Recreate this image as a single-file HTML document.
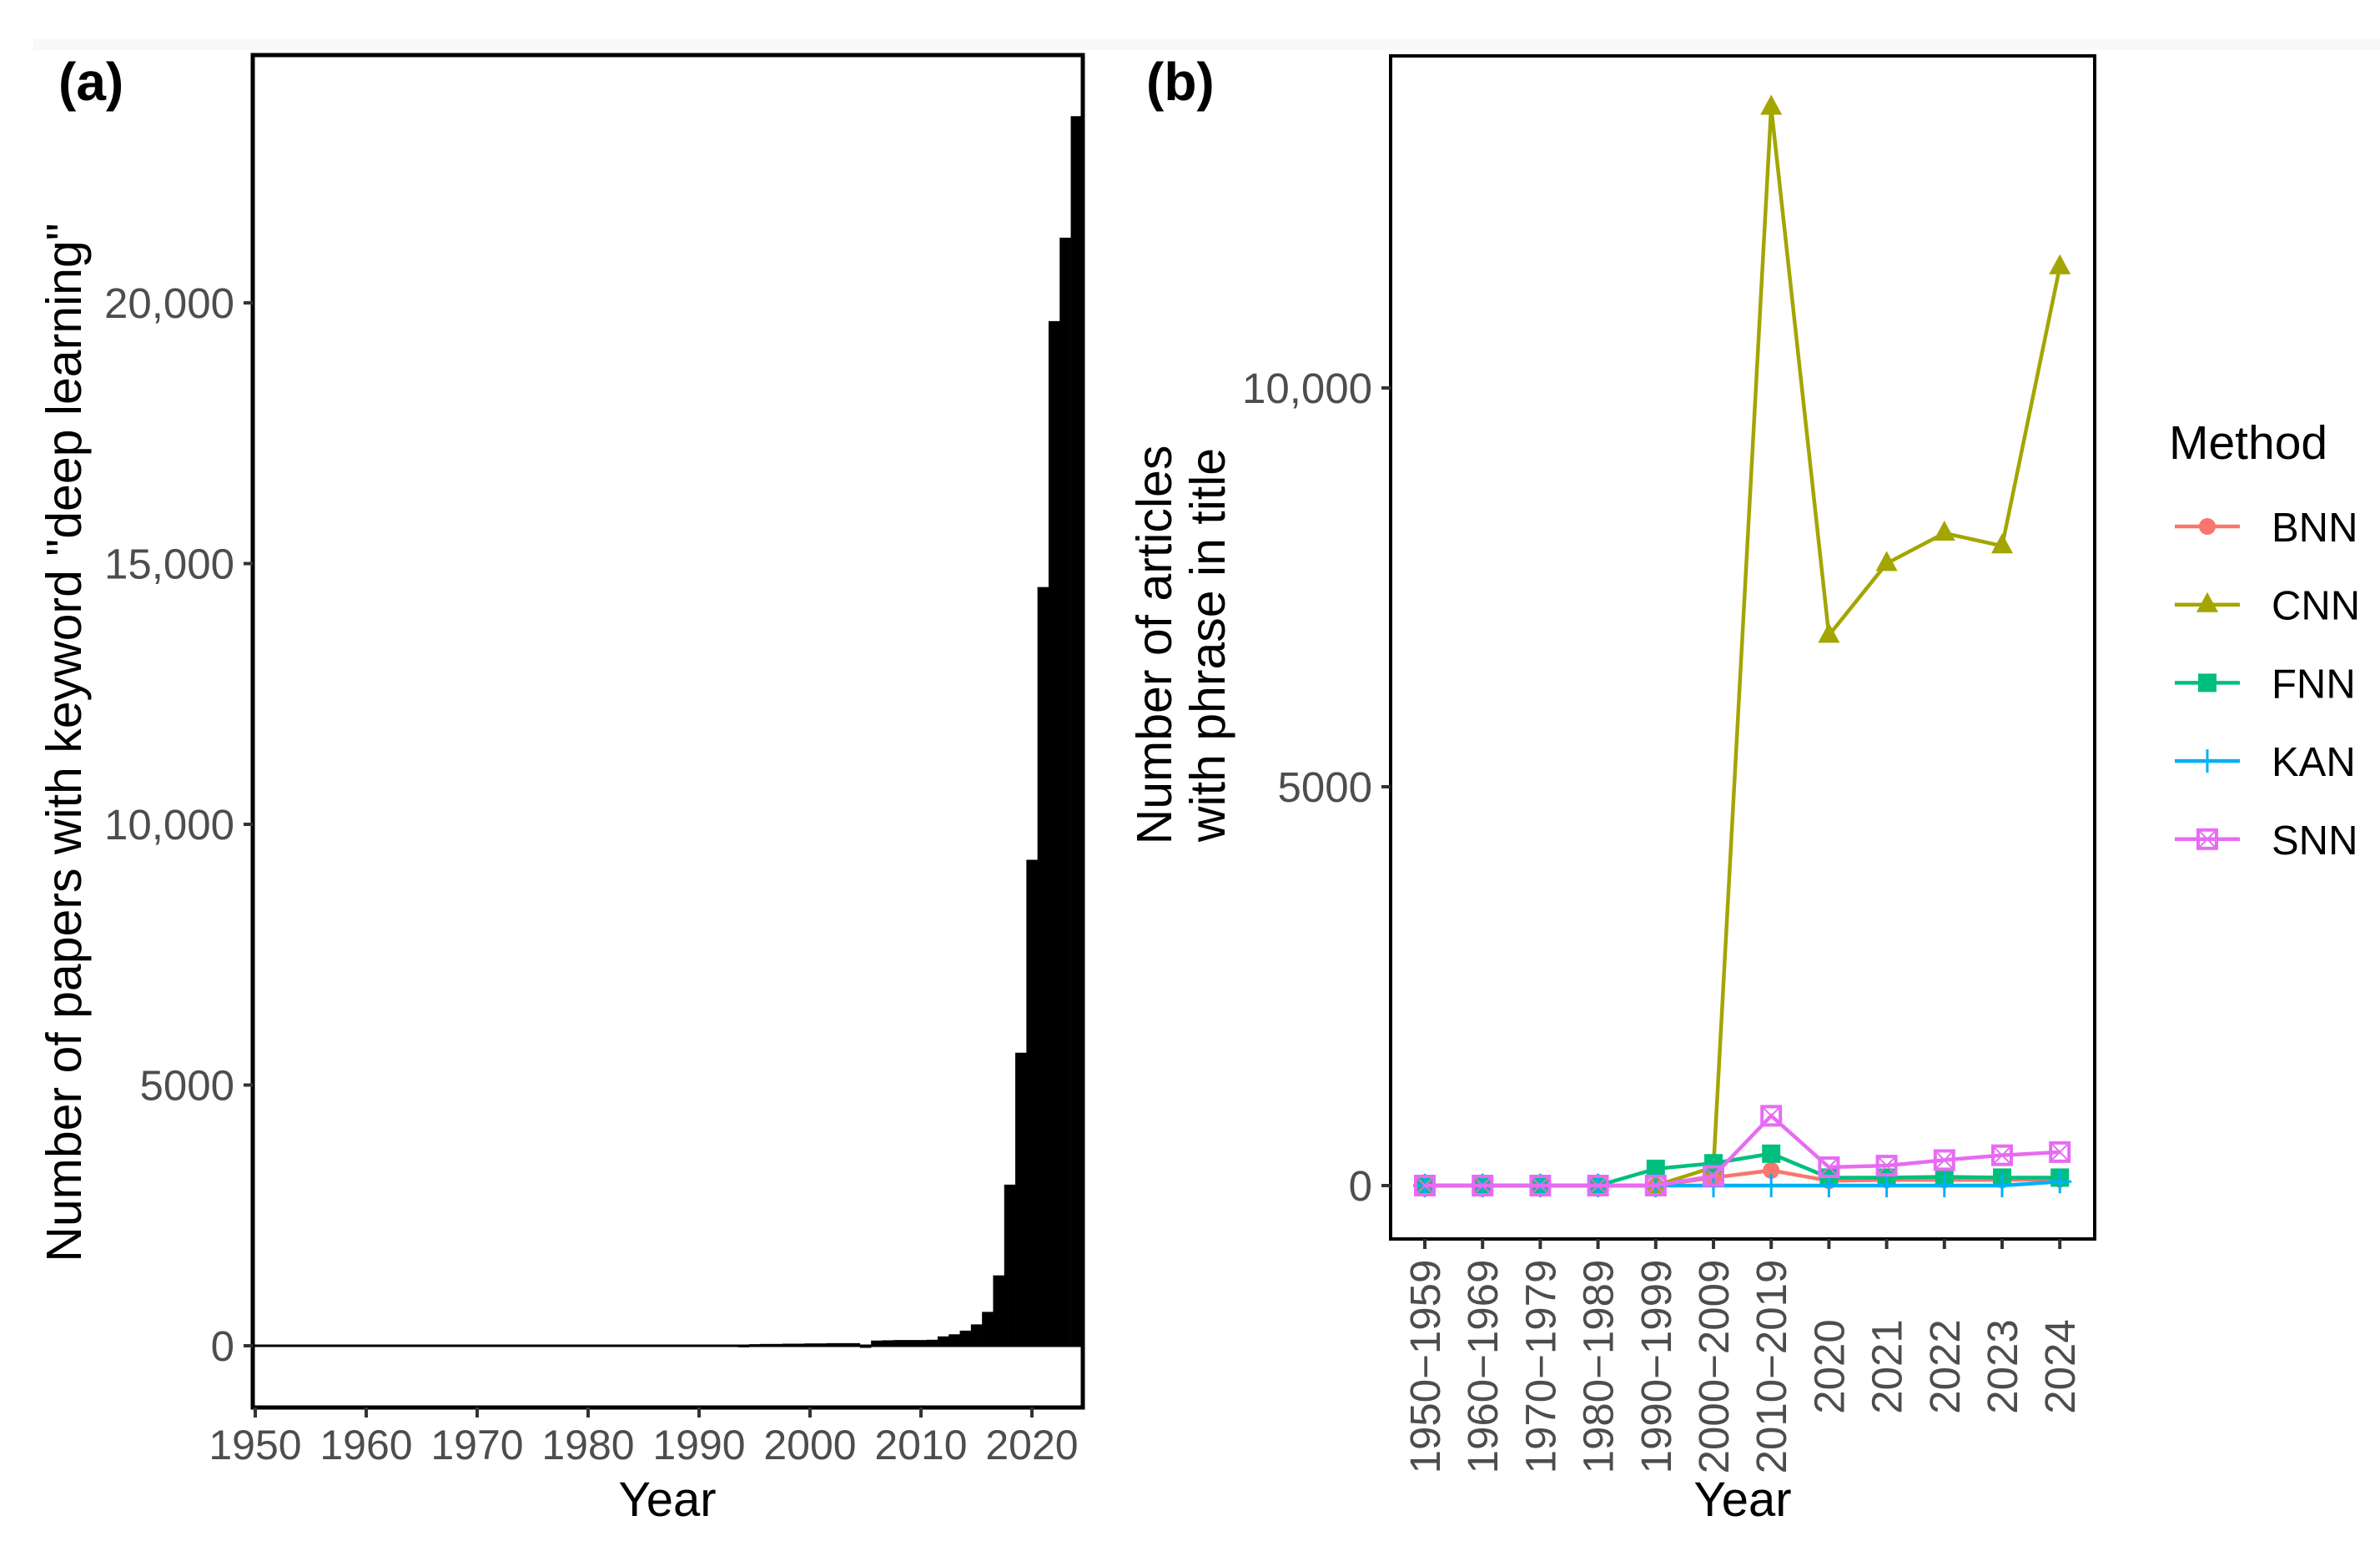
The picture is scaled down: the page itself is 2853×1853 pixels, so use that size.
<!DOCTYPE html>
<html><head><meta charset="utf-8"><style>
html,body{margin:0;padding:0;background:#fff;}
svg{display:block;}
text{font-family:"Liberation Sans",Arial,sans-serif;}
</style></head><body>
<svg id="fig" width="2853" height="1853" viewBox="0 0 2853 1853" xmlns="http://www.w3.org/2000/svg">
<rect x="40" y="47" width="2813" height="13" fill="#f8f8f8"/>
<text x="70" y="120" font-size="64" font-weight="bold">(a)</text>
<text x="1374" y="120" font-size="64" font-weight="bold">(b)</text>
<g id="pa"></g>
<g id="pb"></g>
</svg>
<script>
// ---------- Panel A data ----------
const aYears = [1950,1951,1952,1953,1954,1955,1956,1957,1958,1959,1960,1961,1962,1963,1964,1965,1966,1967,1968,1969,1970,1971,1972,1973,1974,1975,1976,1977,1978,1979,1980,1981,1982,1983,1984,1985,1986,1987,1988,1989,1990,1991,1992,1993,1994,1995,1996,1997,1998,1999,2000,2001,2002,2003,2004,2005,2006,2007,2008,2009,2010,2011,2012,2013,2014,2015,2016,2017,2018,2019,2020,2021,2022,2023,2024];
const aValues = [0,0,0,0,0,0,0,0,0,0,0,0,0,0,0,0,0,0,0,0,0,0,0,0,0,0,0,0,0,0,0,0,0,0,0,0,0,0,0,0,0,0,0,20,-30,30,35,35,40,40,45,45,50,50,50,-40,100,105,110,110,110,115,180,220,290,410,650,1350,3090,5620,9320,14550,19650,21250,23580];
const aYTicks = [0,5000,10000,15000,20000];
const aYTickLabels = ["0","5000","10,000","15,000","20,000"];
const aXTicks = [1950,1960,1970,1980,1990,2000,2010,2020];

// ---------- Panel B data ----------
const bCats = ["1950\u22121959","1960\u22121969","1970\u22121979","1980\u22121989","1990\u22121999","2000\u22122009","2010\u22122019","2020","2021","2022","2023","2024"];
const bnn = [0,0,0,0,0,100,190,60,70,70,70,80];
const cnn = [0,0,0,0,0,230,13520,6900,7800,8180,8020,11520];
const fnn = [0,0,0,0,210,280,400,100,100,110,100,100];
const kan = [0,0,0,0,0,0,0,0,0,0,0,50];
const snn = [0,0,0,0,0,120,875,230,250,320,380,420];
const bYTicks = [0,5000,10000];
const bYTickLabels = ["0","5000","10,000"];
const methods = ["BNN","CNN","FNN","KAN","SNN"];

const NS="http://www.w3.org/2000/svg";
function mk(tag, attrs, parent){const e=document.createElementNS(NS,tag);for(const k in attrs)e.setAttribute(k,attrs[k]);parent.appendChild(e);return e;}

// ---------- Panel A ----------
(function(){
  const g=document.getElementById('pa');
  const L=303,R=1298,T=66,B=1687;
  const x=y=>306+(y-1950)*13.3;
  const yv=v=>1613-v*0.0625;
  const zl=mk('line',{x1:L,x2:R,y1:yv(0),y2:yv(0),stroke:'#000','stroke-width':3},g);
  
  
  aYears.forEach((yr,i)=>{
    const v=aValues[i]; if(v===0) return;
    const y0=yv(0), y1=yv(v);
    const r=mk('rect',{x:x(yr)-6.65,width:13.6,y:Math.min(y0,y1),height:Math.max(1,Math.abs(y1-y0)),fill:'#000'},g);
    
    
  });
  const fr=mk('rect',{x:L,y:T,width:R-L,height:B-T,fill:'none',stroke:'#000','stroke-width':5},g);
  
  
  aYTicks.forEach((t,i)=>{
    const tk=mk('line',{x1:L-11,x2:L,y1:yv(t),y2:yv(t),stroke:'#333','stroke-width':4},g);
    
    
    const tx=mk('text',{x:L-22,y:yv(t)+18,'text-anchor':'end','font-size':51,fill:'#4d4d4d'},g);
    tx.textContent=aYTickLabels[i];
    
    
  });
  aXTicks.forEach(t=>{
    const tk=mk('line',{x1:x(t),x2:x(t),y1:B,y2:B+12,stroke:'#333','stroke-width':4},g);
    
    
    const tx=mk('text',{x:x(t),y:1749,'text-anchor':'middle','font-size':50,fill:'#4d4d4d'},g);
    tx.textContent=t;
    
    
  });
  const xt=mk('text',{x:800,y:1817,'text-anchor':'middle','font-size':58,fill:'#000'},g);
  xt.textContent='Year';
  
  
  const yt=mk('text',{x:0,y:0,'text-anchor':'middle','font-size':59,fill:'#000',transform:'translate(97,890) rotate(-90)'},g);
  yt.textContent='Number of papers with keyword "deep learning"';
  
  
})();

// ---------- Panel B ----------
(function(){
  const g=document.getElementById('pb');
  const L=1667,R=2511,T=67,B=1485;
  const x=i=>1708+i*69.2;
  const yv=v=>1421-v*0.0956;
  const fr=mk('rect',{x:L,y:T,width:R-L,height:B-T,fill:'none',stroke:'#000','stroke-width':4},g);
  
  
  bYTicks.forEach((t,i)=>{
    const tk=mk('line',{x1:L-11,x2:L,y1:yv(t),y2:yv(t),stroke:'#333','stroke-width':4},g);
    
    
    const tx=mk('text',{x:L-22,y:yv(t)+18,'text-anchor':'end','font-size':51,fill:'#4d4d4d'},g);
    tx.textContent=bYTickLabels[i];
    
    
  });
  bCats.forEach((c,i)=>{
    const tk=mk('line',{x1:x(i),x2:x(i),y1:B,y2:B+12,stroke:'#333','stroke-width':4},g);
    
    
    const tx=mk('text',{x:0,y:0,'text-anchor':'middle','font-size':51,fill:'#4d4d4d',transform:`translate(${x(i)+18},1638) rotate(-90)`},g);
    tx.textContent=c;
    
    
  });
  const xt=mk('text',{x:2089,y:1817,'text-anchor':'middle','font-size':58,fill:'#000'},g);
  xt.textContent='Year';
  
  
  const yt1=mk('text',{x:0,y:0,'text-anchor':'middle','font-size':59,fill:'#000',transform:'translate(1404,773) rotate(-90)'},g);
  yt1.textContent='Number of articles';
  
  
  const yt2=mk('text',{x:0,y:0,'text-anchor':'middle','font-size':59,fill:'#000',transform:'translate(1468,773) rotate(-90)'},g);
  yt2.textContent='with phrase in title';
  
  

  const series=[{n:'BNN',d:bnn,c:'#F8766D',s:'circle'},{n:'CNN',d:cnn,c:'#A3A500',s:'tri'},{n:'FNN',d:fnn,c:'#00BF7D',s:'sq'},{n:'KAN',d:kan,c:'#00B0F6',s:'plus'},{n:'SNN',d:snn,c:'#E76BF3',s:'sqx'}];
  function marker(s,cx,cy,c,parent){
    if(s==='circle') return mk('circle',{cx:cx,cy:cy,r:10,fill:c},parent);
    if(s==='tri') return mk('polygon',{points:`${cx},${cy-15} ${cx-13},${cy+9} ${cx+13},${cy+9}`,fill:c},parent);
    if(s==='sq') return mk('rect',{x:cx-11,y:cy-11,width:22,height:22,fill:c},parent);
    if(s==='plus') return mk('path',{d:`M${cx-14},${cy}H${cx+14}M${cx},${cy-14}V${cy+14}`,stroke:c,'stroke-width':3,fill:'none'},parent);
    const gg=mk('g',{},parent);
    mk('rect',{x:cx-11,y:cy-11,width:22,height:22,fill:'none',stroke:c,'stroke-width':4},gg);
    mk('path',{d:`M${cx-11},${cy-11}L${cx+11},${cy+11}M${cx+11},${cy-11}L${cx-11},${cy+11}`,stroke:c,'stroke-width':2},gg);
    return gg;
  }
  series.forEach(se=>{
    const p=se.d.map((v,i)=>`${i?'L':'M'}${x(i)},${yv(v)}`).join('');
    const ln=mk('path',{d:p,stroke:se.c,'stroke-width':4.5,fill:'none'},g);
    
    
    se.d.forEach((v,i)=>{
      const m=marker(se.s,x(i),yv(v),se.c,g);
      
      
    });
  });
  // legend
  const lg=mk('g',{},g);
  
  
  const lt=mk('text',{x:2600,y:550,'font-size':57,fill:'#000'},lg);
  lt.textContent='Method';
  
  
  series.forEach((se,i)=>{
    const cy=631+i*93.7;
    const e=mk('g',{},lg);
    
    
    mk('line',{x1:2607,x2:2685,y1:cy,y2:cy,stroke:se.c,'stroke-width':4.5},e);
    marker(se.s,2646,cy,se.c,e);
    const t=mk('text',{x:2723,y:cy+18,'font-size':49,fill:'#000'},e);
    t.textContent=methods[i];
  });
})();
</script>
</body></html>
